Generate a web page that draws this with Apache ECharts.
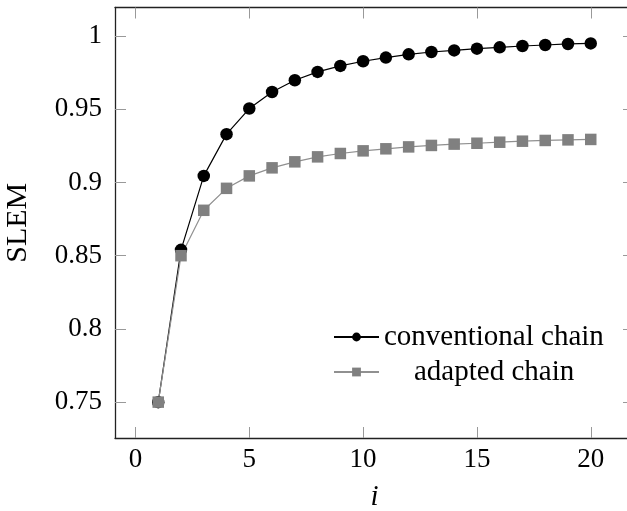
<!DOCTYPE html>
<html>
<head>
<meta charset="utf-8">
<script src="https://cdn.jsdelivr.net/npm/echarts@6.0.0/dist/echarts.min.js"></script>
<style>
  html, body { margin: 0; padding: 0; background: #fff; }
  #chart { width: 627px; height: 511px; }
</style>
</head>
<body>
<div id="chart"></div>
<script>
  // --- Data ---
  const iValues = [1, 2, 3, 4, 5, 6, 7, 8, 9, 10, 11, 12, 13, 14, 15, 16, 17, 18, 19, 20];
  const conventional = [0.750, 0.854, 0.9045, 0.933, 0.9505, 0.9618, 0.9698, 0.9755, 0.9796, 0.9828,
    0.9853, 0.9875, 0.9891, 0.9902, 0.9914, 0.9923, 0.9932, 0.9939, 0.9946, 0.995];
  const adapted = [0.750, 0.850, 0.881, 0.896, 0.9045, 0.910, 0.9141, 0.9175, 0.9198, 0.9216,
    0.923, 0.9243, 0.9253, 0.9262, 0.9268, 0.9275, 0.9282, 0.9287, 0.9291, 0.9294];
  const xTicks = [0, 5, 10, 15, 20];
  const yTicks = [0.75, 0.8, 0.85, 0.9, 0.95, 1];
  const seriesNames = ['conventional chain', 'adapted chain'];

  const FONT = 'Liberation Serif';
  const FS = 27;   // tick labels
  const FS_TXT = 29; // words (Computer Modern runs wider than Times)

  const chart = echarts.init(document.getElementById('chart'), null, { renderer: 'canvas' });

  function frameAxis(extra) {
    return Object.assign({
      axisLine: { show: true, onZero: false, lineStyle: { color: '#222', width: 1.3 } },
      splitLine: { show: false },
      axisLabel: { show: false }
    }, extra);
  }

  function ticks(values) {
    return { show: true, inside: true, length: 11, customValues: values, lineStyle: { color: '#999', width: 1 } };
  }

  // 10% padding around the data range, like the original plot
  const xRange = { type: 'value', min: -0.9, max: 21.9 };
  const yRange = { type: 'value', min: 0.7255, max: 1.0195 };

  chart.setOption({
    animation: false,
    grid: { left: 115, top: 7.5, right: -7, bottom: 73, outerBoundsMode: 'none' },
    xAxis: [
      frameAxis(Object.assign({}, xRange, {
        position: 'bottom',
        name: 'i',
        nameLocation: 'middle',
        nameGap: 45,
        nameTextStyle: { fontFamily: FONT, fontSize: FS_TXT, fontStyle: 'italic', color: '#000' },
        axisTick: ticks(xTicks),
        axisLabel: { show: true, customValues: xTicks, margin: 8, fontFamily: FONT, fontSize: FS, color: '#000' }
      })),
      frameAxis(Object.assign({}, xRange, { position: 'top', axisTick: ticks(xTicks) }))
    ],
    yAxis: [
      frameAxis(Object.assign({}, yRange, {
        position: 'left',
        name: 'SLEM',
        nameLocation: 'middle',
        nameGap: 82,
        nameTextStyle: { fontFamily: FONT, fontSize: 30, color: '#000' },
        axisTick: ticks(yTicks),
        axisLabel: { show: true, customValues: yTicks, margin: 13, fontFamily: FONT, fontSize: FS, color: '#000' }
      })),
      frameAxis(Object.assign({}, yRange, { position: 'right', axisTick: ticks(yTicks) }))
    ],
    legend: [
      {
        data: [seriesNames[0]],
        left: 333, top: 322, padding: 0,
        itemWidth: 45, itemHeight: 11,
        textStyle: { fontFamily: FONT, fontSize: FS_TXT, color: '#000', lineHeight: 30 }
      },
      {
        data: [seriesNames[1]],
        left: 333, top: 357, padding: 0,
        itemWidth: 45, itemHeight: 11,
        textStyle: { fontFamily: FONT, fontSize: FS_TXT, color: '#000', lineHeight: 30, padding: [0, 0, 0, 30] }
      }
    ],
    series: [
      {
        name: seriesNames[0],
        type: 'line',
        data: iValues.map((x, k) => [x, conventional[k]]),
        symbol: 'circle',
        symbolSize: 12.5,
        itemStyle: { color: '#000' },
        lineStyle: { color: '#000', width: 1.2 }
      },
      {
        name: seriesNames[1],
        type: 'line',
        data: iValues.map((x, k) => [x, adapted[k]]),
        symbol: 'rect',
        symbolSize: 11.5,
        itemStyle: { color: '#808080' },
        lineStyle: { color: '#909090', width: 1.2 }
      }
    ]
  });

  window.addEventListener('resize', function () {
    chart.resize();
  });
</script>
</body>
</html>
